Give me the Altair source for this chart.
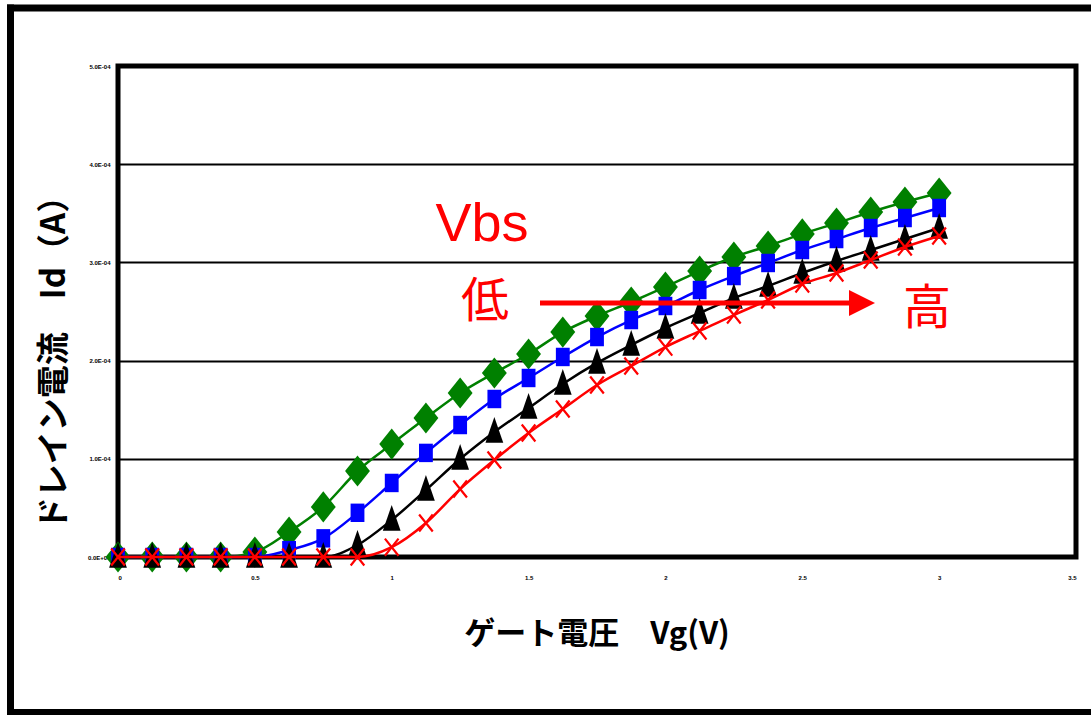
import altair as alt
import pandas as pd

# Gate voltage Vg (V)
vg = [0.0, 0.125, 0.25, 0.375, 0.5, 0.625, 0.75, 0.875, 1.0, 1.125, 1.25, 1.375, 1.5,
      1.625, 1.75, 1.875, 2.0, 2.125, 2.25, 2.375, 2.5, 2.625, 2.75, 2.875, 3.0]

# Drain current Id in units of 1E-04 A, one list per Vbs level (low -> high)
id_green = [0, 0, 0, 0, 0.05, 0.255, 0.51, 0.876, 1.15, 1.415, 1.67, 1.874, 2.067,
            2.29, 2.454, 2.597, 2.75, 2.912, 3.055, 3.167, 3.29, 3.40, 3.513, 3.615, 3.707]
id_blue = [0, 0, 0, 0, 0, 0.07, 0.19, 0.45, 0.754, 1.06, 1.344, 1.609, 1.823,
           2.037, 2.24, 2.413, 2.556, 2.719, 2.861, 2.994, 3.126, 3.238, 3.35, 3.452, 3.554]
id_black = [0, 0, 0, 0, 0, 0, 0, 0.122, 0.377, 0.682, 0.998, 1.273, 1.517,
            1.762, 1.976, 2.159, 2.332, 2.485, 2.637, 2.76, 2.892, 3.014, 3.126, 3.238, 3.35]
id_red = [0, 0, 0, 0, 0, 0, 0, 0, 0.10, 0.346, 0.692, 0.988, 1.263,
          1.507, 1.752, 1.945, 2.138, 2.301, 2.464, 2.617, 2.78, 2.892, 3.024, 3.157, 3.269]

x_ticks = [0, 0.5, 1, 1.5, 2, 2.5, 3, 3.5]
y_ticks = [0, 1e-4, 2e-4, 3e-4, 4e-4, 5e-4]

W, H = 958, 491

xs = alt.Scale(domain=[0, 3.5], nice=False, zero=False)
ys = alt.Scale(domain=[0, 5e-4], nice=False)

x_axis = alt.Axis(values=x_ticks, format="~g", title=None, labelFontSize=6,
                  labelFontWeight="bold", labelPadding=17, labelColor="black",
                  grid=False, domain=False, ticks=False)
y_axis = alt.Axis(values=y_ticks, title=None, labelFontSize=6, labelFontWeight="bold",
                  labelPadding=8, labelColor="black", grid=True, gridColor="black",
                  gridWidth=2, gridOpacity=1, domain=False, ticks=False,
                  labelExpr="datum.value == 0 ? '0.0E+00' : format(datum.value*1e4, '.1f') + 'E-04'")

series = [
    ("green", id_green, "#008000", "M0,-1.25L1,0L0,1.25L-1,0Z", 620, True),
    ("blue", id_blue, "#0000FF", "M-0.75,-1L0.75,-1L0.75,1L-0.75,1Z", 340, True),
    ("black", id_black, "#000000", "M0,-1.05L0.62,0.75L-0.62,0.75Z", 820, True),
    ("red", id_red, "#FF0000", "M-0.8,-1L0.8,1M-0.8,1L0.8,-1", 290, False),
]

layers = []

for name, vals, col, shape, size, filled in series:
    df = pd.DataFrame({"Vg": vg, "Id": [v * 1e-4 for v in vals]})
    base = alt.Chart(df).encode(
        x=alt.X("Vg:Q", scale=xs, axis=x_axis),
        y=alt.Y("Id:Q", scale=ys, axis=y_axis),
    )
    layers.append(base.mark_line(color=col, strokeWidth=2.5, interpolate="monotone"))
    if filled:
        layers.append(base.mark_point(shape=shape, size=size, filled=True, color=col,
                                      opacity=1))
    else:
        layers.append(base.mark_point(shape=shape, size=size, filled=False, color=col,
                                      strokeWidth=2.2, opacity=1))

one = pd.DataFrame({"a": [0]})

# outer frame of the figure (left, top, bottom edges; right edge lies beyond the page)
layers.append(alt.Chart(one).mark_rule(color="black", strokeWidth=7, strokeCap="square").encode(
    x=alt.value(-107.5), y=alt.value(-58), y2=alt.value(646.5)))
layers.append(alt.Chart(one).mark_rule(color="black", strokeWidth=7, strokeCap="square").encode(
    x=alt.value(-107.5), x2=alt.value(973), y=alt.value(-58)))
layers.append(alt.Chart(one).mark_rule(color="black", strokeWidth=7, strokeCap="square").encode(
    x=alt.value(-107.5), x2=alt.value(973), y=alt.value(646.5)))

# annotations
layers.append(alt.Chart(pd.DataFrame({"t": ["Vbs"]})).mark_text(
    color="#FF0000", fontSize=54, font="Liberation Sans", align="center", baseline="middle").encode(
    x=alt.value(364), y=alt.value(159), text="t:N"))
layers.append(alt.Chart(pd.DataFrame({"t": ["低"]})).mark_text(
    color="#FF0000", fontSize=48, font="Noto Sans CJK JP", align="center", baseline="middle").encode(
    x=alt.value(367), y=alt.value(237), text="t:N"))
layers.append(alt.Chart(pd.DataFrame({"t": ["高"]})).mark_text(
    color="#FF0000", fontSize=48, font="Noto Sans CJK JP", align="center", baseline="middle").encode(
    x=alt.value(809), y=alt.value(244), text="t:N"))
layers.append(alt.Chart(one).mark_rule(color="#FF0000", strokeWidth=5).encode(
    x=alt.value(422), x2=alt.value(735), y=alt.value(237)))
layers.append(alt.Chart(one).mark_point(shape="M-1,-1L1,0L-1,1Z", size=676, filled=True,
                                        color="#FF0000", opacity=1).encode(
    x=alt.value(744), y=alt.value(237)))

# axis titles
layers.append(alt.Chart(pd.DataFrame({"t": ["ゲート電圧　Vg(V)"]})).mark_text(
    fontSize=31, fontWeight="bold", font="Noto Sans CJK JP", color="black",
    align="center", baseline="middle").encode(
    x=alt.value(479), y=alt.value(569), text="t:N"))
layers.append(alt.Chart(pd.DataFrame({"t": ["ドレイン電流　Id（A）"]})).mark_text(
    fontSize=33, fontWeight="bold", font="Noto Sans CJK JP", color="black",
    align="center", baseline="middle", angle=270).encode(
    x=alt.value(-63), y=alt.value(289), text="t:N"))

chart = alt.layer(*layers).properties(
    width=W, height=H,
    autosize=alt.AutoSizeParams(type="none"),
    padding={"left": 118, "top": 66, "right": 15, "bottom": 158},
    background="white",
).configure_view(stroke="black", strokeWidth=5)

chart.save("out.html", embed_options={"renderer": "svg", "actions": False})
